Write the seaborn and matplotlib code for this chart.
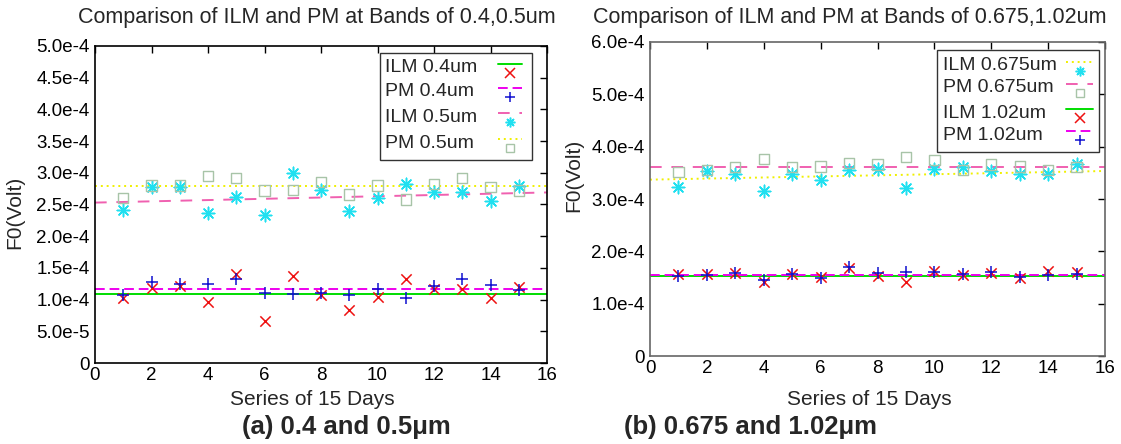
import matplotlib
matplotlib.use("Agg")
import matplotlib.pyplot as plt
import seaborn as sns
from matplotlib.lines import Line2D
from matplotlib.patches import Rectangle

days = list(range(1, 16))
line_x = [0, 16]

# (a) 0.4 / 0.5 um
ilm04 = [1.02e-4, 1.19e-4, 1.21e-4, 0.96e-4, 1.40e-4, 0.66e-4, 1.37e-4, 1.07e-4,
         0.84e-4, 1.04e-4, 1.32e-4, 1.16e-4, 1.16e-4, 1.03e-4, 1.20e-4]
pm04 = [1.07e-4, 1.27e-4, 1.24e-4, 1.25e-4, 1.33e-4, 1.11e-4, 1.085e-4, 1.11e-4,
        1.08e-4, 1.175e-4, 1.03e-4, 1.21e-4, 1.32e-4, 1.23e-4, 1.15e-4]
ilm05 = [2.42e-4, 2.78e-4, 2.77e-4, 2.37e-4, 2.62e-4, 2.34e-4, 2.99e-4, 2.73e-4,
         2.40e-4, 2.61e-4, 2.82e-4, 2.70e-4, 2.69e-4, 2.55e-4, 2.79e-4]
pm05 = [2.60e-4, 2.80e-4, 2.80e-4, 2.95e-4, 2.92e-4, 2.72e-4, 2.73e-4, 2.85e-4,
        2.66e-4, 2.80e-4, 2.58e-4, 2.82e-4, 2.92e-4, 2.78e-4, 2.72e-4]
ilm04_fit = [1.085e-4, 1.085e-4]
pm04_fit = [1.17e-4, 1.17e-4]
ilm05_fit = [2.53e-4, 2.69e-4]
pm05_fit = [2.79e-4, 2.79e-4]

# (b) 0.675 / 1.02 um
ilm0675 = [3.23e-4, 3.53e-4, 3.47e-4, 3.15e-4, 3.47e-4, 3.36e-4, 3.55e-4, 3.57e-4,
           3.21e-4, 3.57e-4, 3.62e-4, 3.53e-4, 3.48e-4, 3.48e-4, 3.66e-4]
pm0675 = [3.52e-4, 3.55e-4, 3.61e-4, 3.77e-4, 3.61e-4, 3.62e-4, 3.69e-4, 3.66e-4,
          3.80e-4, 3.74e-4, 3.55e-4, 3.66e-4, 3.62e-4, 3.55e-4, 3.61e-4]
ilm102 = [1.57e-4, 1.57e-4, 1.59e-4, 1.41e-4, 1.57e-4, 1.51e-4, 1.69e-4, 1.53e-4,
          1.41e-4, 1.62e-4, 1.54e-4, 1.59e-4, 1.50e-4, 1.62e-4, 1.61e-4]
pm102 = [1.53e-4, 1.54e-4, 1.59e-4, 1.45e-4, 1.56e-4, 1.49e-4, 1.70e-4, 1.59e-4,
         1.61e-4, 1.61e-4, 1.57e-4, 1.61e-4, 1.51e-4, 1.54e-4, 1.56e-4]
ilm0675_fit = [3.37e-4, 3.535e-4]
pm0675_fit = [3.62e-4, 3.62e-4]
ilm102_fit = [1.52e-4, 1.52e-4]
pm102_fit = [1.55e-4, 1.55e-4]

xticks = list(range(0, 17, 2))
left_yticks = [0, 5e-5, 1e-4, 1.5e-4, 2e-4, 2.5e-4, 3e-4, 3.5e-4, 4e-4, 4.5e-4, 5e-4]
left_ylabels = ["0", "5.0e-5", "1.0e-4", "1.5e-4", "2.0e-4", "2.5e-4", "3.0e-4",
                "3.5e-4", "4.0e-4", "4.5e-4", "5.0e-4"]
right_yticks = [0, 1e-4, 2e-4, 3e-4, 4e-4, 5e-4, 6e-4]
right_ylabels = ["0", "1.0e-4", "2.0e-4", "3.0e-4", "4.0e-4", "5.0e-4", "6.0e-4"]

sns.set_theme(style="white")
plt.rcParams['font.family'] = ['Liberation Sans', 'DejaVu Sans']

W, H = 1121, 444

GREEN = '#00dd00'
RED = '#ee1111'
MAGENTA = '#ee00ee'
BLUE = '#1010d0'
PINK = '#f060b0'
CYAN = '#20e0f0'
YELLOW = '#f0f000'
SQUARE = '#a8c4a8'
ASTER = (8, 2, 0)

# line style / point style per series (gnuplot-like)
s_ilm04 = dict(color=GREEN, ls='-', dashes=None, mcolor=RED, marker='x', ms=55, label="ILM 0.4um")
s_pm04 = dict(color=MAGENTA, ls='--', dashes=(5, 2.5), mcolor=BLUE, marker='+', ms=70, label="PM 0.4um")
s_ilm05 = dict(color=PINK, ls='--', dashes=(6, 5), mcolor=CYAN, marker=ASTER, ms=80, label="ILM 0.5um")
s_pm05 = dict(color=YELLOW, ls=':', dashes=(1, 2), mcolor=SQUARE, marker='s', ms=55, label="PM 0.5um")
s_ilm0675 = dict(s_ilm05, color=YELLOW, ls=':', dashes=(1, 2), label="ILM 0.675um")
s_pm0675 = dict(s_pm05, color=PINK, ls='--', dashes=(6, 5), label="PM 0.675um")
s_ilm102 = dict(s_ilm04, label="ILM 1.02um")
s_pm102 = dict(s_pm04, label="PM 1.02um")


def px(x, y):
    return x / W, 1 - y / H


def draw_series(ax, fit, pts, st):
    sns.lineplot(x=line_x, y=fit, ax=ax, color=st['color'], linewidth=1.4)
    line = ax.get_lines()[-1]
    line.set_linestyle(st['ls'])
    if st['dashes'] is not None:
        line.set_dashes(st['dashes'])
    if st['marker'] == 's':
        sns.scatterplot(x=days, y=pts, ax=ax, marker='s', s=st['ms'], facecolor='none',
                        edgecolor=st['mcolor'], linewidth=1.0, zorder=3)
    else:
        sns.scatterplot(x=days, y=pts, ax=ax, marker=st['marker'], s=st['ms'],
                        color=st['mcolor'], linewidth=1.1, zorder=3)


def draw_key(styles, box, text_x, sample_x, row_y):
    # gnuplot style key: label left, line sample above point sample on the right
    x0, y0, x1, y1 = box
    fig.add_artist(Rectangle(px(x0, y1), (x1 - x0) / W, (y1 - y0) / H,
                             transform=fig.transFigure, facecolor='white',
                             edgecolor='#333333', linewidth=1.0, zorder=5))
    for st, ty in zip(styles, row_y):
        fig.text(*px(text_x, ty), st['label'], ha='left', va='center', fontsize=14, zorder=6)
        ly = 1 - (ty - 4) / H
        ln = Line2D([sample_x[0] / W, sample_x[1] / W], [ly, ly], transform=fig.transFigure,
                    color=st['color'], linewidth=1.4, linestyle=st['ls'], zorder=6)
        if st['dashes'] is not None:
            ln.set_dashes(st['dashes'])
        fig.add_artist(ln)
        mx, my = px((sample_x[0] + sample_x[1]) / 2, ty + 5)
        if st['marker'] == 's':
            mk = Line2D([mx], [my], transform=fig.transFigure, linestyle='none', marker='s',
                        markersize=6, markerfacecolor='none', markeredgecolor=st['mcolor'],
                        markeredgewidth=1.0, zorder=6)
        else:
            mk = Line2D([mx], [my], transform=fig.transFigure, linestyle='none',
                        marker=st['marker'], markersize=7, color=st['mcolor'],
                        markeredgewidth=1.1, zorder=6)
        fig.add_artist(mk)


def style_axes(ax, yticks, ylabels, ymax, spine_color):
    ax.set_xlim(0, 16)
    ax.set_ylim(0, ymax)
    ax.set_xticks(xticks)
    ax.set_xticklabels([str(t) for t in xticks])
    ax.set_yticks(yticks)
    ax.set_yticklabels(ylabels)
    ax.tick_params(direction='in', length=5, width=1, top=True, right=True,
                   labelsize=13.5, colors='black')
    ax.tick_params(axis='x', pad=3)
    ax.tick_params(axis='y', pad=4)
    for s in ax.spines.values():
        s.set_color(spine_color)
        s.set_linewidth(1.2)
        s.set_visible(True)
    ax.set_xlabel("Series of 15 Days", fontsize=15)
    ax.set_ylabel("F0(Volt)", fontsize=15)


fig = plt.figure(figsize=(W / 100, H / 100), dpi=100)
ax1 = fig.add_axes([95 / W, 1 - 363 / H, 452 / W, 317 / H])
ax2 = fig.add_axes([650 / W, 1 - 356 / H, 455 / W, 314 / H])

draw_series(ax1, ilm04_fit, ilm04, s_ilm04)
draw_series(ax1, pm04_fit, pm04, s_pm04)
draw_series(ax1, ilm05_fit, ilm05, s_ilm05)
draw_series(ax1, pm05_fit, pm05, s_pm05)

draw_series(ax2, ilm0675_fit, ilm0675, s_ilm0675)
draw_series(ax2, pm0675_fit, pm0675, s_pm0675)
draw_series(ax2, ilm102_fit, ilm102, s_ilm102)
draw_series(ax2, pm102_fit, pm102, s_pm102)

style_axes(ax1, left_yticks, left_ylabels, 5e-4, 'black')
style_axes(ax2, right_yticks, right_ylabels, 6e-4, '#666666')

ax1.xaxis.set_label_coords(0.48, -0.085)
ax1.yaxis.set_label_coords(-0.157, 0.476)
ax2.xaxis.set_label_coords(0.483, -0.108)
ax2.yaxis.set_label_coords(-0.147, 0.576)

draw_key([s_ilm04, s_pm04, s_ilm05, s_pm05], (380, 53, 532, 160), 385, (498, 522),
         [68, 92, 117, 143])
draw_key([s_ilm0675, s_pm0675, s_ilm102, s_pm102], (937, 50, 1099, 152), 943, (1066, 1093),
         [66, 88, 113, 135])

fig.text(317 / W, 1 - 17 / H, "Comparison of ILM and PM at Bands of 0.4,0.5um",
         ha='center', va='center', fontsize=15.5)
fig.text(850 / W, 1 - 17 / H, "Comparison of ILM and PM at Bands of 0.675,1.02um",
         ha='center', va='center', fontsize=15.5)
fig.text(346 / W, 1 - 427 / H, "(a) 0.4 and 0.5\u03bcm", ha='center', va='center',
         fontsize=18.5, fontweight='bold')
fig.text(751 / W, 1 - 427 / H, "(b) 0.675 and 1.02\u03bcm", ha='center', va='center',
         fontsize=18.5, fontweight='bold')

fig.savefig("out.png", dpi=100)
